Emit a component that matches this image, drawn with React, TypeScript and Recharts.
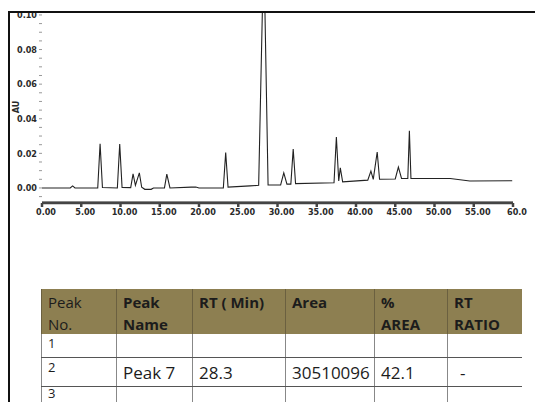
import { LineChart, Line, XAxis, YAxis, ReferenceLine } from 'recharts';

// retention time (min) / absorbance (AU)
const RT_MIN = [
  0, 3.6, 3.9, 4.2, 7.1, 7.4, 7.7, 9.6, 9.9, 10.2, 11.3, 11.6, 11.9, 12.4, 12.7,
  13.1, 13.9, 14.2, 15.6, 15.9, 16.3, 19.0, 19.6, 20.0, 23.1, 23.4, 23.7, 26.5,
  27.6, 28.25, 28.8, 30.4, 30.8, 31.2, 31.7, 32.0, 32.3, 37.2, 37.5, 37.8, 38.0,
  38.3, 41.5, 41.9, 42.2, 42.7, 43.0, 45.0, 45.4, 45.8, 46.6, 46.8, 47.0, 52.0,
  54.5, 59.9,
];
const ABS_AU = [
  0, 0, 0.0012, 0, 0, 0.0255, 0.0003, 0, 0.0254, 0.0003, 0.0002, 0.0081, 0.0015,
  0.0087, 0.0004, -0.0008, -0.0008, 0, 0, 0.008, 0, 0.0005, 0.0005, 0, 0, 0.0205,
  0.0005, 0.0012, 0.0015, 0.14, 0.0017, 0.0018, 0.0087, 0.0022, 0.0022, 0.0225,
  0.0025, 0.003, 0.0295, 0.004, 0.0116, 0.0035, 0.0045, 0.0098, 0.005, 0.0208,
  0.005, 0.0052, 0.0121, 0.0055, 0.0055, 0.033, 0.0055, 0.0055, 0.004, 0.0042,
];

const X_TICKS = [0, 5, 10, 15, 20, 25, 30, 35, 40, 45, 50, 55, 60];
const X_TICK_LABELS = ['0.00', '5.00', '10.00', '15.00', '20.00', '25.00', '30.00', '35.00', '40.00', '45.00', '50.00', '55.00', '60.0'];
const Y_TICKS = [
  -0.005, 0, 0.005, 0.01, 0.015, 0.02, 0.025, 0.03, 0.035, 0.04, 0.045, 0.05,
  0.055, 0.06, 0.065, 0.07, 0.075, 0.08, 0.085, 0.09, 0.095, 0.1,
];
const Y_MAJOR = [0, 0.02, 0.04, 0.06, 0.08, 0.1];
const Y_AXIS_BASE = -0.0083;

const TABLE_HEADERS = ['Peak|No.', 'Peak|Name', 'RT ( Min)', 'Area', '%|AREA', 'RT|RATIO'];
const TABLE_ROW_NO = ['1', '2', '3'];
const TABLE_ROW_VALUES = [
  ['', '', '', '', ''],
  ['Peak 7', '28.3', '30510096', '42.1', '-'],
  ['', '', '', '', ''],
];
const COL_W = [76, 76, 93, 89, 73, 74];
const ROW_H = [23, 28, 20];

const tickFont = "'Liberation Sans Narrow', 'DejaVu Sans Condensed', sans-serif";
const tableFont = "'Open Sans', 'Noto Sans', sans-serif";

export default function App() {
  const data = RT_MIN.map((t, i) => ({ t, au: ABS_AU[i] }));

  return (
    <div style={{ position: 'absolute', left: 0, top: 0, width: 535, height: 402, background: '#fff', overflow: 'hidden' }}>
      <LineChart width={535} height={230} data={data} margin={{ top: 12, right: 22, left: 0, bottom: 7 }}>
        <XAxis
          dataKey="t"
          type="number"
          domain={[0, 60]}
          ticks={X_TICKS}
          interval={0}
          height={20}
          stroke="#444"
          strokeWidth={2.5}
          tickSize={4}
          tick={{ fontSize: 9, fontWeight: 700, fill: '#2a2a2a', fontFamily: tickFont, dx: 4 }}
          tickFormatter={(v) => X_TICK_LABELS[X_TICKS.indexOf(v)] ?? ''}
        />
        <YAxis
          type="number"
          width={42}
          domain={[-0.0087, 0.1017]}
          allowDataOverflow
          ticks={Y_TICKS}
          interval={0}
          axisLine={false}
          tickSize={3}
          tickLine={{ stroke: '#999' }}
          tick={{ fontSize: 9, fontWeight: 700, fill: '#2a2a2a', fontFamily: tickFont }}
          tickFormatter={(v) => (Y_MAJOR.some((m) => Math.abs(m - v) < 1e-6) ? v.toFixed(2) : '')}
        />
        <ReferenceLine y={Y_AXIS_BASE} stroke="#444" strokeWidth={1.5} ifOverflow="visible" />
        <Line
          type="linear"
          dataKey="au"
          stroke="#222"
          strokeWidth={1.1}
          dot={false}
          isAnimationActive={false}
        />
      </LineChart>

      <span
        style={{
          position: 'absolute', left: 10, top: 102, fontSize: 9, fontWeight: 700,
          fontFamily: tickFont, color: '#2a2a2a', transform: 'rotate(-90deg)',
        }}
      >
        AU
      </span>

      {/* frame */}
      <div style={{ position: 'absolute', left: 8, top: 11, width: 540, height: 400, borderTop: '2px solid #111', borderLeft: '2px solid #111' }} />

      {/* peak table */}
      <div style={{ position: 'absolute', left: 41, top: 289, fontFamily: tableFont, color: '#1c1c1c' }}>
        <div style={{ display: 'flex', height: 45, background: '#8d7f51' }}>
          {TABLE_HEADERS.map((h, i) => (
            <div
              key={h}
              style={{
                width: COL_W[i], boxSizing: 'border-box', padding: '2px 0 0 6px', fontSize: 15,
                lineHeight: '22px', fontWeight: i === 0 ? 400 : 700,
                borderLeft: i === 0 ? '1px solid #6b6040' : 'none',
                borderRight: i < COL_W.length - 1 ? '1px solid #6b6040' : 'none',
              }}
            >
              {h.split('|').map((l) => <div key={l}>{l}</div>)}
            </div>
          ))}
        </div>
        {TABLE_ROW_NO.map((n, r) => (
          <div key={n} style={{ display: 'flex', height: ROW_H[r], borderBottom: r < 2 ? '1px solid #555' : 'none' }}>
            {[n, ...TABLE_ROW_VALUES[r]].map((c, i) => (
              <div
                key={i}
                style={{
                  width: i === COL_W.length - 1 ? COL_W[i] - 14 : COL_W[i], boxSizing: 'border-box',
                  paddingLeft: i === 5 ? 12 : 6,
                  fontSize: i === 0 ? 13 : 17,
                  lineHeight: i === 0 ? (r === 2 ? '13px' : '18px') : `${ROW_H[r] + 2}px`,
                  borderLeft: i === 0 ? '1px solid #888' : 'none',
                  borderRight: i < COL_W.length - 1 ? '1px solid #888' : 'none',
                }}
              >
                {c}
              </div>
            ))}
          </div>
        ))}
      </div>
    </div>
  );
}
